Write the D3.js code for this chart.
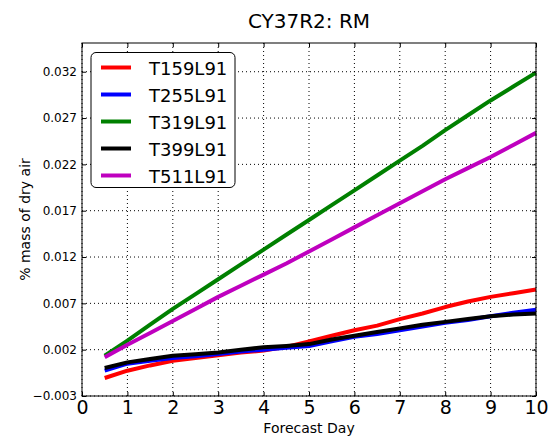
<!DOCTYPE html>
<html>
<head>
<meta charset="utf-8">
<script src="https://cdn.jsdelivr.net/npm/d3@7"></script>
<style>
  body { margin: 0; background: #fff; }
  text { font-family: "DejaVu Sans", sans-serif; }
</style>
</head>
<body>
<svg id="chart" width="552" height="437"></svg>
<script>
// forecast days
var days = [0.5,1,1.5,2,2.5,3,3.5,4,4.5,5,5.5,6,6.5,7,7.5,8,8.5,9,9.5,10];

var names = ["T159L91","T255L91","T319L91","T399L91","T511L91"];
var colors = ["#ff0000","#0000ff","#008000","#000000","#bf00bf"];

var t159 = [-0.00106,-0.00027,0.0003,0.0008,0.0011,0.0014,0.0017,0.0019,0.0023,0.0029,0.0035,0.0041,0.0046,0.0053,0.0059,0.0066,0.0072,0.0077,0.0081,0.0085];
var t255 = [-0.00027,0.00049,0.0008,0.0011,0.0013,0.00154,0.0018,0.0020,0.0022,0.0024,0.0029,0.0034,0.0037,0.0041,0.0045,0.0049,0.0052,0.0056,0.0060,0.0063];
var t319 = [0.00135,0.00297,0.0047,0.0064,0.0080,0.0096,0.0112,0.0128,0.0144,0.0160,0.0176,0.0192,0.0208,0.0224,0.0240,0.0257,0.0273,0.0289,0.0304,0.0319];
var t399 = [0.00002,0.00063,0.0010,0.00135,0.0015,0.0017,0.0020,0.00225,0.0024,0.0026,0.0031,0.0035,0.0039,0.0043,0.0047,0.0050,0.0053,0.0056,0.0058,0.0059];
var t511 = [0.00117,0.00254,0.0038,0.0051,0.0064,0.0077,0.0089,0.0101,0.0113,0.0126,0.0139,0.0152,0.0165,0.0178,0.0191,0.0204,0.0216,0.0228,0.0241,0.0254];
var series = [t159,t255,t319,t399,t511];

var xTicks = [0,1,2,3,4,5,6,7,8,9,10];
var yTicks = [-0.003,0.002,0.007,0.012,0.017,0.022,0.027,0.032];

var pLeft = 82, pRight = 536, pTop = 43, pBottom = 396;

var svg = d3.select("#chart");
var x = d3.scaleLinear().domain([0,10]).range([pLeft,pRight]);
var y = d3.scaleLinear().domain([-0.003,0.0351]).range([pBottom,pTop]);

// grid
var grid = svg.append("g");
grid.selectAll(".gx").data(xTicks).enter().append("line")
  .attr("x1",function(d){return x(d);}).attr("x2",function(d){return x(d);})
  .attr("y1",pTop).attr("y2",pBottom)
  .attr("stroke","#000").attr("stroke-width",1).attr("stroke-dasharray","1,3");
grid.selectAll(".gy").data(yTicks).enter().append("line")
  .attr("x1",pLeft).attr("x2",pRight)
  .attr("y1",function(d){return y(d);}).attr("y2",function(d){return y(d);})
  .attr("stroke","#000").attr("stroke-width",1).attr("stroke-dasharray","1,3");

// lines
var line = d3.line()
  .x(function(d,i){return x(days[i]);})
  .y(function(d){return y(d);});
series.forEach(function(s,i){
  svg.append("path")
    .attr("d",line(s))
    .attr("fill","none")
    .attr("stroke",colors[i])
    .attr("stroke-width",4)
    .attr("stroke-linejoin","round");
});

// frame
svg.append("rect")
  .attr("x",pLeft).attr("y",pTop)
  .attr("width",pRight-pLeft).attr("height",pBottom-pTop)
  .attr("fill","none").attr("stroke","#000").attr("stroke-width",1);

// axes with inward ticks
var xAxis = d3.axisBottom(x).tickValues(xTicks).tickSizeInner(-4).tickSizeOuter(0).tickPadding(4).tickFormat(d3.format("d"));
var gx = svg.append("g").attr("transform","translate(0,"+pBottom+")").call(xAxis);
gx.select(".domain").remove();
gx.selectAll("text").attr("font-size",19).attr("font-family","DejaVu Sans").attr("fill","#000");
svg.append("g").attr("transform","translate(0,"+pTop+")")
  .call(d3.axisTop(x).tickValues(xTicks).tickSizeInner(-4).tickSizeOuter(0).tickFormat(""))
  .select(".domain").remove();

var yAxis = d3.axisLeft(y).tickValues(yTicks).tickSizeInner(-4).tickSizeOuter(0).tickPadding(5)
  .tickFormat(function(d){return d3.format(".3f")(d).replace("-","\u2212");});
var gy = svg.append("g").attr("transform","translate("+pLeft+",0)").call(yAxis);
gy.select(".domain").remove();
gy.selectAll("text").attr("font-size",12).attr("font-family","DejaVu Sans").attr("fill","#000");
svg.append("g").attr("transform","translate("+pRight+",0)")
  .call(d3.axisRight(y).tickValues(yTicks).tickSizeInner(-4).tickSizeOuter(0).tickFormat(""))
  .select(".domain").remove();

// titles
svg.append("text").attr("x",(pLeft+pRight)/2).attr("y",28)
  .attr("text-anchor","middle").attr("font-size",20).text("CY37R2: RM");
svg.append("text").attr("x",(pLeft+pRight)/2).attr("y",433)
  .attr("text-anchor","middle").attr("font-size",14).text("Forecast Day");
svg.append("text").attr("transform","translate(30,"+((pTop+pBottom)/2)+") rotate(-90)")
  .attr("text-anchor","middle").attr("font-size",14).text("% mass of dry air");

// legend
var leg = svg.append("g");
leg.append("rect").attr("x",91).attr("y",52.5).attr("width",144).attr("height",135)
  .attr("rx",5).attr("fill","#fff").attr("stroke","#000").attr("stroke-width",1);
names.forEach(function(n,i){
  var ly = 67.5 + i*27;
  leg.append("line").attr("x1",101).attr("x2",131).attr("y1",ly).attr("y2",ly)
    .attr("stroke",colors[i]).attr("stroke-width",4);
  leg.append("text").attr("x",149).attr("y",ly+7).attr("font-size",18).text(n);
});
</script>
</body>
</html>
